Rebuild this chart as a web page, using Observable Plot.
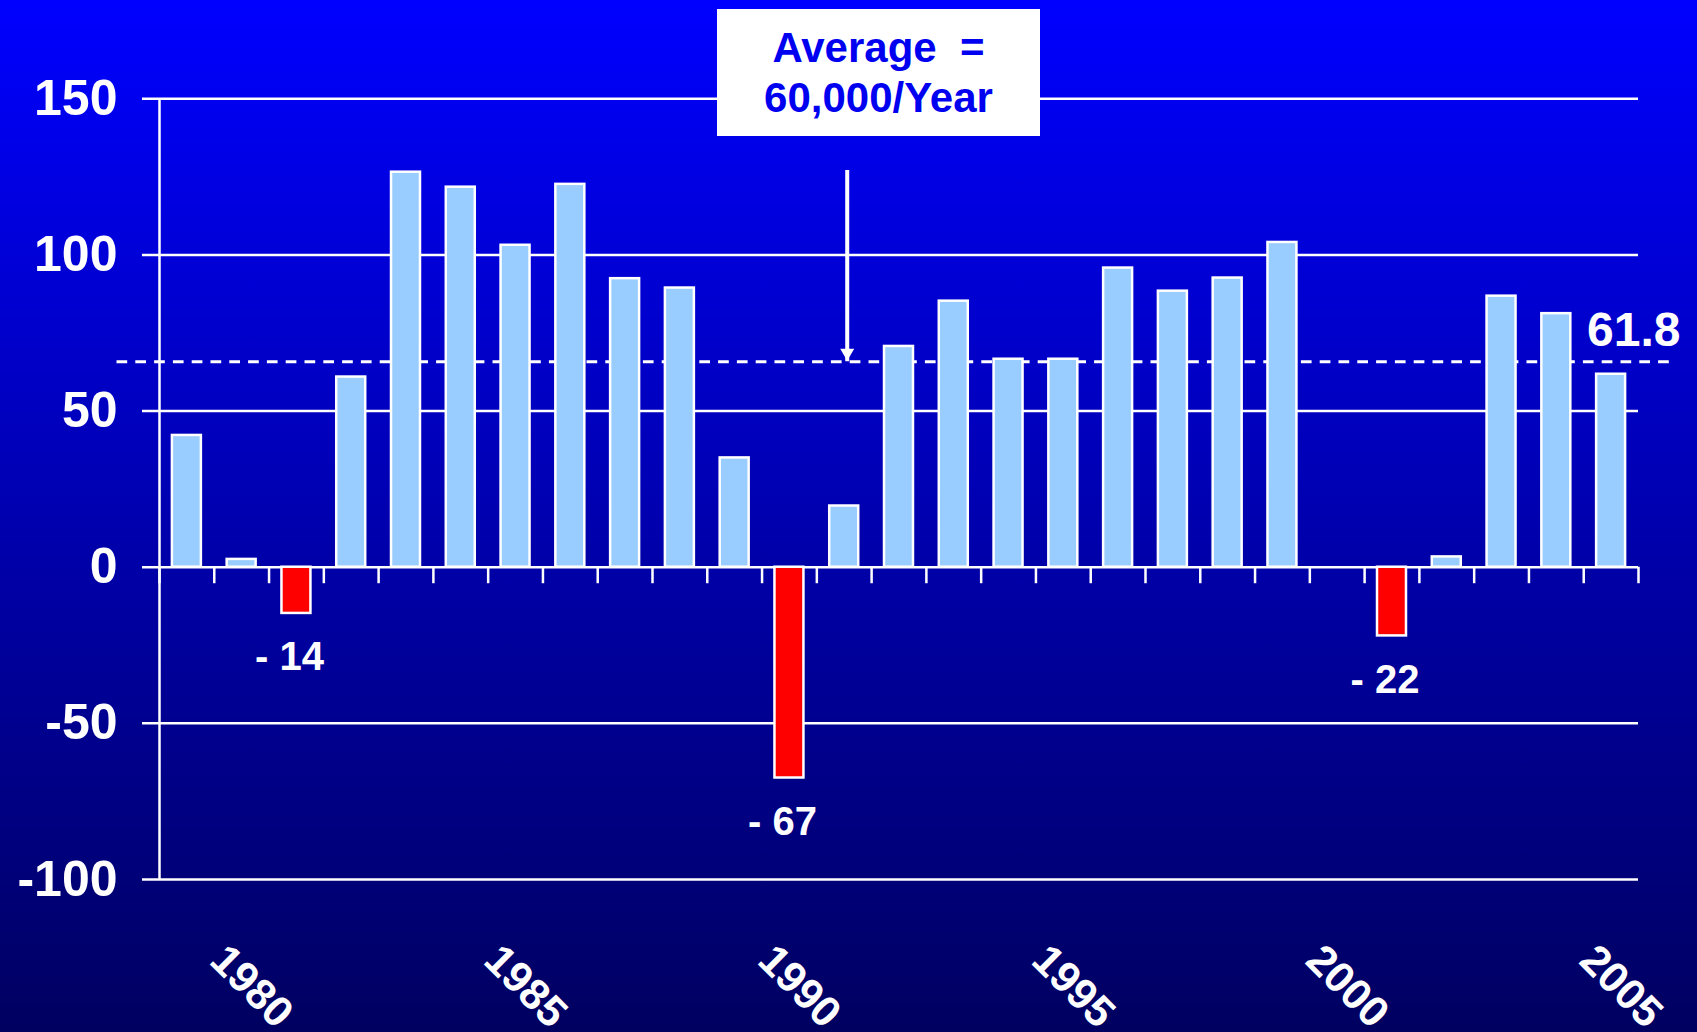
<!DOCTYPE html>
<html>
<head>
<meta charset="utf-8">
<script src="https://cdn.jsdelivr.net/npm/d3@7"></script>
<script src="https://cdn.jsdelivr.net/npm/@observablehq/plot@0.6"></script>
<style>
html, body { margin: 0; padding: 0; }
body {
  width: 1697px; height: 1032px; overflow: hidden;
  background: linear-gradient(to bottom, #0000ff 0%, #000060 100%);
  font-family: "Liberation Sans", Arial, sans-serif;
}
#wrap { position: relative; width: 1697px; height: 1032px; }
#note {
  position: absolute; left: 717px; top: 8.5px; width: 323px; height: 127px;
  background: #ffffff; color: #0000f0; font-weight: bold; font-size: 42px;
  line-height: 50.6px; text-align: center; box-sizing: border-box;
  padding-top: 14.3px; white-space: pre;
  font-family: "Liberation Sans", Arial, sans-serif;
}
</style>
</head>
<body>
<div id="wrap"><div id="chart"></div><div id="note">Average  =<br>60,000/Year</div></div>
<script>
// ---- data ----
const years = [1979, 1980, 1981, 1982, 1983, 1984, 1985, 1986, 1987, 1988,
               1989, 1990, 1991, 1992, 1993, 1994, 1995, 1996, 1997, 1998,
               1999, 2000, 2001, 2002, 2003, 2004, 2005];
const values = [42.2, 2.5, -14.8, 60.9, 126.5, 121.7, 103.1, 122.6, 92.4, 89.4,
                35.0, -67.5, 19.6, 70.7, 85.2, 66.6, 66.6, 95.8, 88.4, 92.6,
                104.0, 0, -22.0, 3.3, 86.8, 81.2, 61.8];
const yearTicks = [1980, 1985, 1990, 1995, 2000, 2005];
const yTicks = [-100, -50, 0, 50, 100, 150];
const negLabelYears = [1981, 1990, 2001];
const negLabelTexts = ["- 14", "- 67", "- 22"];
const averageLine = 65.8;           // dashed line as drawn in the reference
const arrowYear = 1991;
const arrowFrom = 127;

const data = years.map((year, i) => ({year, value: values[i]}));
const valueByYear = new Map(data.map(d => [d.year, d.value]));
const negLabels = negLabelYears.map((year, i) => ({year, text: negLabelTexts[i], value: valueByYear.get(year)}));
const lastBar = data[data.length - 1];
const xStart = years[0] - 0.5, xEnd = years[years.length - 1] + 0.5;
const tickBounds = years.map(y => y - 0.5).concat([xEnd]);
const arrowAnno = {year: arrowYear, from: arrowFrom, to: averageLine};

const font = "Liberation Sans, Arial, sans-serif";
const chart = Plot.plot({
  width: 1697, height: 1032,
  marginTop: 98.3, marginBottom: 153, marginLeft: 159, marginRight: 59,
  style: {background: "transparent", color: "white", fontFamily: font, overflow: "visible"},
  x: {domain: [xStart, xEnd], axis: null},
  y: {domain: [-100, 150]},
  marks: [
    Plot.ruleY(yTicks, {stroke: "white", strokeWidth: 2.5, insetLeft: -17}),
    Plot.ruleX([xStart], {y1: -100, y2: 150, stroke: "white", strokeWidth: 2.5}),
    Plot.ruleX(tickBounds, {y1: 0, y2: 0, insetBottom: -16.5, stroke: "white", strokeWidth: 2.5}),
    Plot.ruleY([averageLine], {stroke: "white", strokeWidth: 3, strokeDasharray: "10.7,8.1", insetLeft: -42.5, insetRight: -38.7}),
    Plot.rect(data, {
      x1: d => d.year - 0.5, x2: d => d.year + 0.5, y1: 0, y2: "value",
      fill: d => d.value < 0 ? "#ff0000" : "#99ccff",
      stroke: "white", strokeWidth: 2.5, insetLeft: 12.9, insetRight: 12.9
    }),
    Plot.ruleX([arrowAnno], {x: "year", y1: "from", y2: "to", stroke: "white", strokeWidth: 4, dx: 3}),
    Plot.dot([arrowAnno], {x: "year", y: "to", symbol: "triangle", rotate: 180, r: 5.2, fill: "white", dx: 3, dy: -9}),
    Plot.axisY(yTicks, {tickSize: 0, tickPadding: 42, fontSize: 50, fontWeight: "bold", fill: "white", fontFamily: font, tickFormat: d => String(d)}),
    Plot.text(yearTicks, {
      x: d => d, text: d => String(d), frameAnchor: "bottom", dx: 10, dy: 107, rotate: 45,
      textAnchor: "middle", lineAnchor: "middle", fontSize: 43, fontWeight: "bold", fill: "white", fontFamily: font
    }),
    Plot.text(negLabels, {
      x: "year", y: "value", text: "text", dx: -7, dy: 44, lineAnchor: "middle",
      fontSize: 40, fontWeight: "bold", fill: "white", fontFamily: font
    }),
    Plot.text([lastBar], {
      x: "year", y: "value", text: d => d3.format(".1f")(d.value),
      textAnchor: "start", lineAnchor: "bottom", dx: -24, dy: -28,
      fontSize: 48, fontWeight: "bold", fill: "white", fontFamily: font
    })
  ]
});
document.getElementById("chart").appendChild(chart);
</script>
</body>
</html>
